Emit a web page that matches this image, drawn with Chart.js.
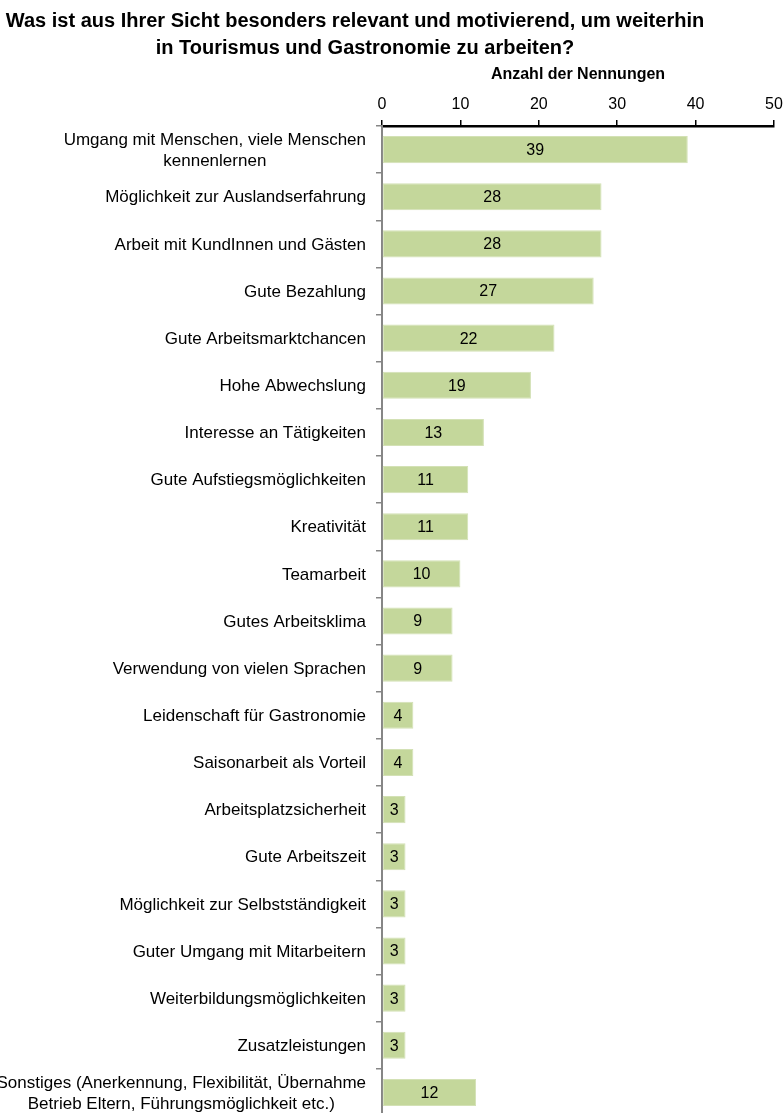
<!DOCTYPE html>
<html lang="de">
<head>
<meta charset="utf-8">
<title>Relevanz und Motivation in Tourismus und Gastronomie</title>
<script src="https://cdn.jsdelivr.net/npm/chart.js@4/dist/chart.umd.min.js"></script>
<style>
  html, body { margin: 0; padding: 0; background: #ffffff; overflow: hidden; }
  #wrap { position: relative; width: 783px; height: 1120px; }
</style>
</head>
<body>
<div id="wrap"><canvas id="chart"></canvas></div>
<script>
// Survey answers: reasons to keep working in tourism and gastronomy
const titleLines = [
  'Was ist aus Ihrer Sicht besonders relevant und motivierend, um weiterhin',
  'in Tourismus und Gastronomie zu arbeiten?'
];
const axisTitle = 'Anzahl der Nennungen';

const categories = [
  ['Umgang mit Menschen, viele Menschen', 'kennenlernen'],
  'Möglichkeit zur Auslandserfahrung',
  'Arbeit mit KundInnen und Gästen',
  'Gute Bezahlung',
  'Gute Arbeitsmarktchancen',
  'Hohe Abwechslung',
  'Interesse an Tätigkeiten',
  'Gute Aufstiegsmöglichkeiten',
  'Kreativität',
  'Teamarbeit',
  'Gutes Arbeitsklima',
  'Verwendung von vielen Sprachen',
  'Leidenschaft für Gastronomie',
  'Saisonarbeit als Vorteil',
  'Arbeitsplatzsicherheit',
  'Gute Arbeitszeit',
  'Möglichkeit zur Selbstständigkeit',
  'Guter Umgang mit Mitarbeitern',
  'Weiterbildungsmöglichkeiten',
  'Zusatzleistungen',
  ['Sonstiges (Anerkennung, Flexibilität, Übernahme', 'Betrieb Eltern, Führungsmöglichkeit etc.)']
];

const mentions = [39, 28, 28, 27, 22, 19, 13, 11, 11, 10, 9, 9, 4, 4, 3, 3, 3, 3, 3, 3, 12];

const xTicks = [0, 10, 20, 30, 40, 50];

const FONT = '"Liberation Sans", Arial, sans-serif';

// Two-line bold heading above the axis
const headingPlugin = {
  id: 'heading',
  afterDraw(chart) {
    const ctx = chart.ctx;
    ctx.save();
    ctx.fillStyle = '#000000';
    ctx.font = 'bold 20px ' + FONT;
    ctx.textAlign = 'center';
    ctx.textBaseline = 'middle';
    const centres = [355, 365];
    titleLines.forEach((line, i) => {
      ctx.fillText(line, centres[i], 21 + i * 27);
    });
    ctx.restore();
  }
};

// Category names left of the axis, multi-line names centred on their widest line
const categoryLabelPlugin = {
  id: 'categoryLabels',
  afterDraw(chart) {
    const ctx = chart.ctx;
    const yScale = chart.scales.y;
    const right = yScale.right - 16;
    const lineH = 21;
    ctx.save();
    ctx.fillStyle = '#000000';
    ctx.font = '17px ' + FONT;
    ctx.textBaseline = 'middle';
    categories.forEach((cat, i) => {
      const lines = Array.isArray(cat) ? cat : [cat];
      const y0 = yScale.getPixelForValue(i) - (lines.length - 1) * lineH / 2 + 1;
      if (lines.length === 1) {
        ctx.textAlign = 'right';
        ctx.fillText(lines[0], right, y0);
      } else {
        const maxW = Math.max(...lines.map(l => ctx.measureText(l).width));
        ctx.textAlign = 'center';
        lines.forEach((l, k) => ctx.fillText(l, right - maxW / 2, y0 + k * lineH));
      }
    });
    ctx.restore();
  }
};

// Value printed in the middle of each bar
const valueLabelPlugin = {
  id: 'valueLabels',
  afterDatasetsDraw(chart) {
    const ctx = chart.ctx;
    const meta = chart.getDatasetMeta(0);
    ctx.save();
    ctx.fillStyle = '#000000';
    ctx.font = '16px ' + FONT;
    ctx.textAlign = 'center';
    ctx.textBaseline = 'middle';
    meta.data.forEach((bar, i) => {
      const x = (bar.x + bar.base) / 2;
      ctx.fillText(String(mentions[i]), x, bar.y + 1);
    });
    ctx.restore();
  }
};

new Chart(document.getElementById('chart'), {
  type: 'bar',
  data: {
    labels: categories,
    datasets: [{
      data: mentions,
      backgroundColor: '#C4D79B',
      borderColor: '#D3E1B5',
      borderWidth: 1,
      borderSkipped: false,
      categoryPercentage: 1,
      barPercentage: 0.575
    }]
  },
  options: {
    indexAxis: 'y',
    responsive: true,
    maintainAspectRatio: false,
    animation: false,
    layout: { padding: { top: 58, right: 0, bottom: 4, left: 0 } },
    plugins: {
      legend: { display: false },
      tooltip: { enabled: false },
      title: { display: false }
    },
    scales: {
      x: {
        position: 'top',
        min: 0,
        max: 50,
        afterBuildTicks(scale) {
          scale.ticks = xTicks.map(v => ({ value: v }));
        },
        afterFit(scale) {
          scale.height = 68;
          scale.paddingRight = 9;
          scale.paddingLeft = 0;
        },
        ticks: {
          color: '#000000',
          font: { family: FONT, size: 16 },
          padding: 6,
          maxRotation: 0
        },
        grid: {
          drawOnChartArea: false,
          drawTicks: true,
          tickLength: 6,
          color: '#000000',
          lineWidth: 1.5
        },
        border: { display: true, color: '#000000', width: 2.5 },
        title: {
          display: true,
          text: axisTitle,
          color: '#000000',
          font: { family: FONT, size: 16, weight: 'bold' },
          padding: { top: 7, bottom: 0 }
        }
      },
      y: {
        afterFit(scale) { scale.width = 382; },
        ticks: { display: false },
        grid: {
          offset: true,
          drawOnChartArea: false,
          drawTicks: true,
          tickLength: 6,
          color: '#868686',
          lineWidth: 1.5
        },
        border: { display: true, color: '#868686', width: 2 }
      }
    }
  },
  plugins: [headingPlugin, categoryLabelPlugin, valueLabelPlugin]
});
</script>
</body>
</html>
